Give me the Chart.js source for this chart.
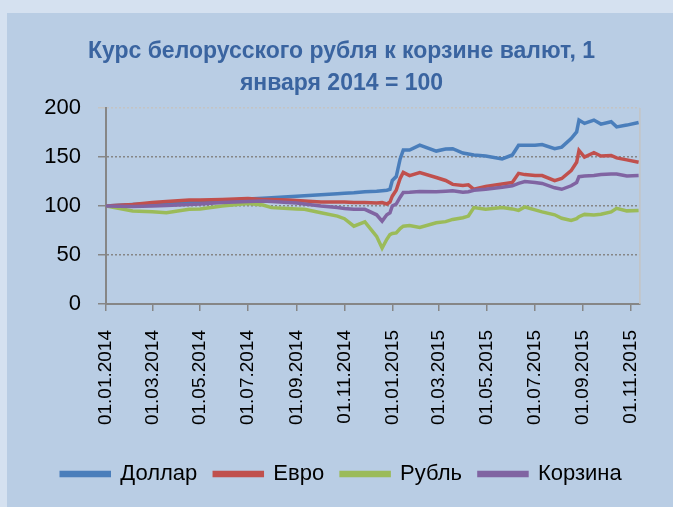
<!DOCTYPE html>
<html>
<head>
<meta charset="utf-8">
<script src="https://cdn.jsdelivr.net/npm/chart.js@4/dist/chart.umd.min.js"></script>
<style>
  html, body { margin: 0; padding: 0; background: #d5e1f0; }
  #panel { position: absolute; left: 7px; top: 13px; width: 666px; height: 494px; background: #b9cde4; }
  canvas { display: block; }
</style>
</head>
<body>
<div id="panel"><canvas id="chart" width="666" height="494"></canvas></div>
<script>
const dates = [
  '01.01.2014', '04.02.2014', '01.03.2014', '19.03.2014', '17.04.2014', '01.05.2014',
  '29.05.2014', '01.07.2014', '20.07.2014', '31.07.2014', '21.08.2014', '01.09.2014',
  '11.09.2014', '02.10.2014', '23.10.2014', '01.11.2014', '13.11.2014', '27.11.2014',
  '12.12.2014', '19.12.2014', '25.12.2014', '29.12.2014', '01.01.2015', '06.01.2015',
  '11.01.2015', '15.01.2015', '23.01.2015', '05.02.2015', '26.02.2015', '10.03.2015',
  '19.03.2015', '01.04.2015', '08.04.2015', '15.04.2015', '30.04.2015', '21.05.2015',
  '03.06.2015', '11.06.2015', '19.06.2015', '02.07.2015', '11.07.2015', '27.07.2015',
  '05.08.2015', '17.08.2015', '24.08.2015', '27.08.2015', '03.09.2015', '15.09.2015',
  '24.09.2015', '07.10.2015', '14.10.2015', '27.10.2015', '11.11.2015'
];
const dollar = [
  100, 101.5, 102.5, 103, 104, 104.5,
  105.5, 107, 108, 108.5, 109.5, 110,
  110.5, 111.5, 112.5, 113, 113.5, 114.5,
  115, 115.5, 116, 117, 126, 130,
  148, 157, 157, 162, 156, 158,
  158.4, 154, 153, 152, 151, 148,
  152, 162, 162, 161.9, 162.6, 158.4,
  160, 168.7, 175.6, 187.6, 184.2, 187.6,
  183.5, 185.9, 180.7, 182.5, 185.2
];
const euro = [
  100, 101.5, 103.5, 104.5, 106, 106,
  106.5, 107.5, 106.5, 106.5, 106, 105.5,
  105, 104, 104, 104, 103.5, 103.5,
  103, 103.4, 102, 104, 110, 116,
  128, 134.3, 131, 134, 129, 126,
  122, 121, 121.6, 117, 120, 122.4,
  124, 133.3, 132, 131, 131, 125.8,
  128, 136, 144.6, 156.7, 149.8, 154.3,
  151, 151.5, 149, 147, 144.6
];
const ruble = [
  100, 94.8, 94, 93, 96.6, 97,
  100, 102.5, 101, 98.3, 97.5, 97,
  96.6, 93, 89.7, 87, 79.4, 83.8,
  69, 57, 66, 70.8, 72, 72.5,
  77, 79.4, 80, 78, 82.8, 84,
  86.3, 88, 89.7, 98.3, 96.6, 98.5,
  97, 95.5, 99, 96, 94, 91,
  87.5, 85.2, 87, 89, 91.4, 90.7,
  91.5, 94, 97.6, 95, 95.5
];
const basket = [
  100, 99.5, 100, 100.5, 101.5, 102,
  103.5, 104.5, 105, 104.5, 103.5, 103,
  102, 100, 98.5, 97.5, 96.6, 96.6,
  91, 84.5, 91, 93, 100, 102,
  109, 113.7, 114, 114.8, 114.5, 115,
  115.5, 114, 114.5, 116, 117, 119,
  120.6, 123, 125, 124, 123, 118.5,
  117, 120.6, 124, 129.9, 130.5, 131,
  132, 132.6, 132.6, 130.5, 131
];
const tickDates = [
  '01.01.2014', '01.03.2014', '01.05.2014', '01.07.2014', '01.09.2014', '01.11.2014',
  '01.01.2015', '01.03.2015', '01.05.2015', '01.07.2015', '01.09.2015', '01.11.2015'
];

function dayIndex(s) {
  const [d, m, y] = s.split('.').map(Number);
  return Math.round((Date.UTC(y, m - 1, d) - Date.UTC(2014, 0, 1)) / 86400000);
}
const xs = dates.map(dayIndex);
const tickDays = tickDates.map(dayIndex);
const toPoints = (vals) => vals.map((v, i) => ({ x: xs[i], y: v }));

const series = [
  { label: 'Доллар', data: dollar, color: '#4a7ebb', order: 4 },
  { label: 'Евро', data: euro, color: '#c0504d', order: 3 },
  { label: 'Рубль', data: ruble, color: '#9bbb59', order: 2 },
  { label: 'Корзина', data: basket, color: '#8064a2', order: 1 },
];

// thin light frame on the right side of the plot, like the Excel plot area
const rightEdge = {
  id: 'rightEdge',
  afterDraw(chart) {
    const a = chart.chartArea;
    const ctx = chart.ctx;
    ctx.save();
    ctx.strokeStyle = '#c4c4c4';
    ctx.lineWidth = 1.5;
    ctx.beginPath();
    ctx.moveTo(a.right + 0.5, a.top);
    ctx.lineTo(a.right + 0.5, a.bottom);
    ctx.stroke();
    ctx.restore();
  }
};

new Chart(document.getElementById('chart').getContext('2d'), {
  type: 'line',
  data: {
    datasets: series.map((s) => ({
      label: s.label,
      data: toPoints(s.data),
      borderColor: s.color,
      backgroundColor: s.color,
      borderWidth: 3.5,
      pointRadius: 0,
      tension: 0,
      fill: false,
      order: s.order,
    })),
  },
  options: {
    responsive: false,
    animation: false,
    layout: { padding: { left: 30, right: 27, top: 0, bottom: 12 } },
    plugins: {
      title: {
        display: true,
        text: ['Курс белорусского рубля к корзине валют, 1', 'января 2014 = 100'],
        color: '#3a64a0',
        font: { family: 'Liberation Sans', size: 23, weight: 'bold', lineHeight: 1.39 },
        padding: { top: 23, bottom: 8 },
      },
      legend: {
        position: 'bottom',
        labels: {
          boxWidth: 48,
          boxHeight: 3,
          padding: 17,
          color: '#000',
          font: { family: 'Liberation Sans', size: 22 },
          sort: (a, b) => a.datasetIndex - b.datasetIndex,
        },
      },
      tooltip: { enabled: false },
    },
    scales: {
      x: {
        type: 'linear',
        min: 0,
        max: 680,
        afterBuildTicks: (axis) => { axis.ticks = tickDays.map((v) => ({ value: v })); },
        afterFit: (axis) => { axis.height = 142; },
        ticks: {
          color: '#000',
          font: { family: 'Liberation Sans', size: 19 },
          minRotation: 90,
          maxRotation: 90,
          autoSkip: false,
          padding: 19,
          callback: (v) => tickDates[tickDays.indexOf(v)],
        },
        grid: { drawOnChartArea: false, drawTicks: true, tickLength: 7, color: '#868686', lineWidth: 1.5 },
        border: { color: '#868686', width: 2 },
      },
      y: {
        min: 0,
        max: 200,
        afterFit: (axis) => { axis.width = 69; },
        ticks: {
          stepSize: 50,
          color: '#000',
          font: { family: 'Liberation Sans', size: 22 },
          padding: 17,
        },
        grid: {
          color: (c) => (c.tick && c.tick.value === 200 ? '#c4c4c4' : '#868686'),
          tickLength: 8,
          lineWidth: 1.5,
        },
        border: { color: '#868686', width: 2, dash: [2, 2] },
      },
    },
  },
  plugins: [rightEdge],
});
</script>
</body>
</html>
